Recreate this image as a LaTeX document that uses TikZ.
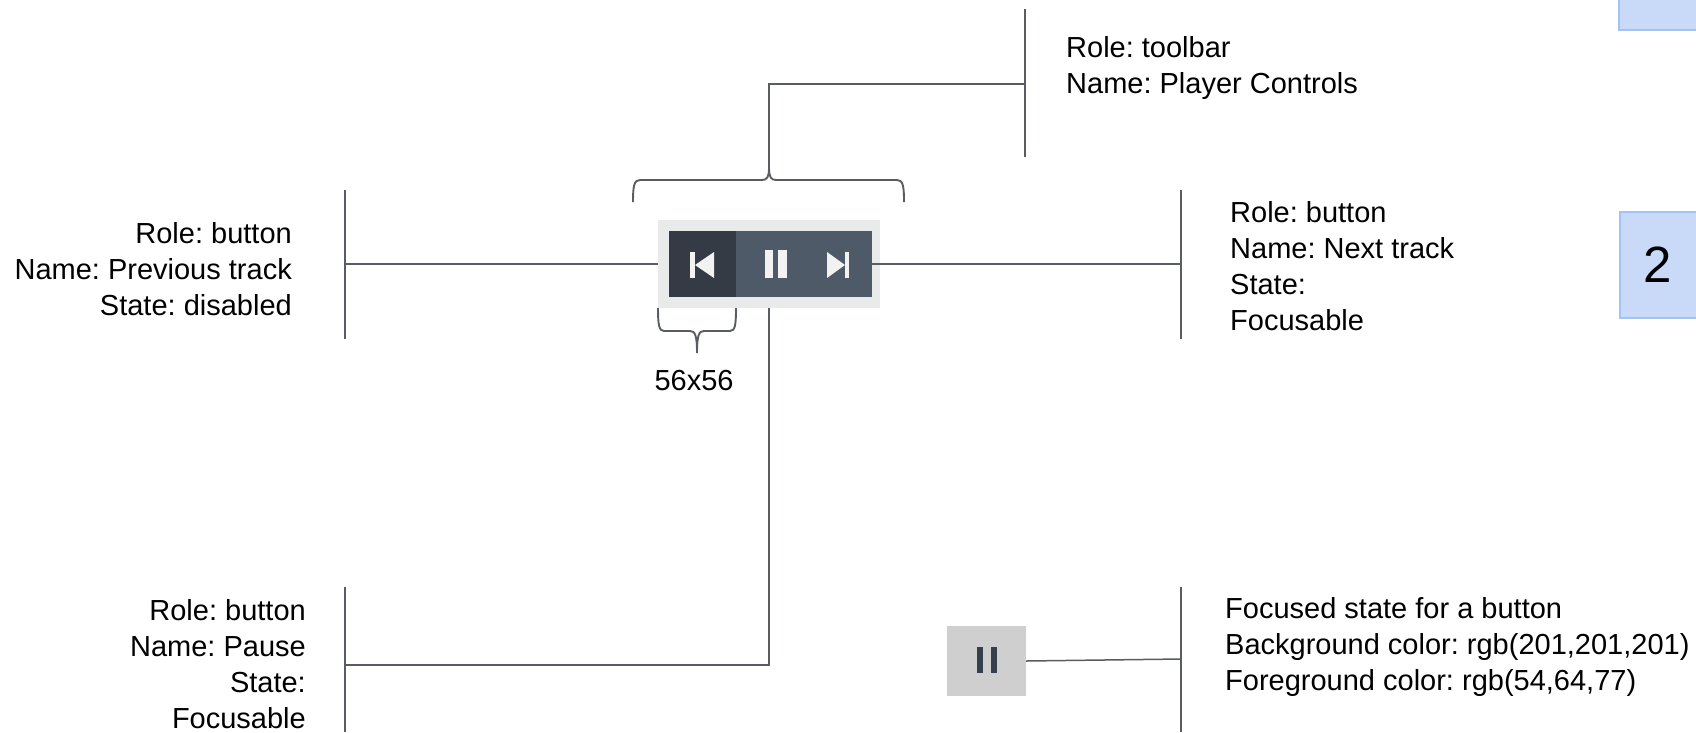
\documentclass[tikz,border=0pt]{standalone}
\usepackage{fontspec}
\setmainfont{Liberation Sans}
\frenchspacing
\definecolor{linegray}{HTML}{595C61}
\definecolor{barbg}{HTML}{E9EAEA}
\definecolor{btndark}{HTML}{343B45}
\definecolor{btnlight}{HTML}{4F5A68}
\definecolor{focusbg}{HTML}{CFCFCF}
\definecolor{focusfg}{HTML}{36404D}
\definecolor{boxfill}{HTML}{C9DAF8}
\definecolor{boxline}{HTML}{A4C2F4}
\tikzset{
    rule/.style={draw=linegray,line width=1.5pt},
    bracket/.style={draw=linegray,line width=1.9pt},
    note/.style={inner sep=0pt,font=\fontsize{29}{36}\selectfont},
    noteleft/.style={note,anchor=east,align=right},
    noteright/.style={note,anchor=west,align=left},
    patch/.style={inner sep=0pt,outer sep=0pt,anchor=north west},
    numbox/.style={draw=boxline,fill=boxfill,line width=1.5pt}
}
\begin{document}
\begin{tikzpicture}[x=1pt,y=-1pt]
    \useasboundingbox (0,0) rectangle (1696,732);

    % Thanh điều khiển
    \node[patch,fill=barbg,minimum width=222pt,minimum height=88pt] (bar) at (658,220) {};
    \node[patch,fill=btnlight,minimum width=136pt,minimum height=66pt] (rest) at (736,231) {};
    \node[patch,fill=btndark,minimum width=67.5pt,minimum height=66pt] (prev) at (668.5,231) {};

    % Biểu tượng trên các nút
    \fill[white!95!black] (690,252) rectangle (695,278);
    \fill[white!95!black] (695,265) -- (714,252) -- (714,278) -- cycle;
    \fill[white!95!black] (765,250) rectangle (773,278);
    \fill[white!95!black] (778,250) rectangle (787,278);
    \fill[white!95!black] (827,252) -- (845,265) -- (827,278) -- cycle;
    \fill[white!95!black] (845,252) rectangle (849,278);

    % Nút ở trạng thái focus
    \node[patch,fill=focusbg,minimum width=79pt,minimum height=70pt] (focus) at (947,626) {};
    \fill[focusfg] (977,647) rectangle (983,673);
    \fill[focusfg] (991,647) rectangle (997,673);

    % Các thanh dọc
    \coordinate (toolTop) at (1025,9);
    \coordinate (toolBot) at (1025,157);
    \coordinate (toolMid) at (1025,84);
    \coordinate (prevTop) at (345,190);
    \coordinate (prevBot) at (345,339);
    \coordinate (prevMid) at (345,264);
    \coordinate (nextTop) at (1181,190);
    \coordinate (nextBot) at (1181,339);
    \coordinate (nextMid) at (1181,264);
    \coordinate (pauseTop) at (345,587);
    \coordinate (pauseBot) at (345,732);
    \coordinate (pauseMid) at (345,665);
    \coordinate (focusTop) at (1181,587);
    \coordinate (focusBot) at (1181,732);
    \coordinate (focusMid) at (1181,659);
    \draw[rule] (toolTop) -- (toolBot);
    \draw[rule] (prevTop) -- (prevBot);
    \draw[rule] (nextTop) -- (nextBot);
    \draw[rule] (pauseTop) -- (pauseBot);
    \draw[rule] (focusTop) -- (focusBot);

    % Ngoặc trên và ngoặc dưới
    \coordinate (braceTip) at (769,168);
    \coordinate (sizeTip) at (697,353);
    \draw[bracket] (633,202) .. controls (633,186) and (634,180) .. (640,180) -- (762,180)
        .. controls (767,180) and (769,177) .. (braceTip)
        .. controls (769,177) and (771,180) .. (776,180) -- (897,180)
        .. controls (903,180) and (904,186) .. (904,202);
    \draw[bracket] (658,308) .. controls (658,325) and (659,331) .. (664,331) -- (690,331)
        .. controls (695,331) and (697,335) .. (sizeTip)
        .. controls (697,335) and (699,331) .. (704,331) -- (730,331)
        .. controls (735,331) and (736,325) .. (736,308);

    % Đường nối
    \draw[rule] (braceTip) |- (toolMid);
    \draw[rule] (bar.west |- prevMid) -- (prevMid);
    \draw[rule] (rest.east |- nextMid) -- (nextMid);
    \draw[rule] (769,308) |- (pauseMid);
    \draw[rule] (focus.east |- 0,661) -- (focusMid);

    % Chú thích
    \node[noteright] (toolNote) at (1066,68) {Role: toolbar\\Name: Player Controls};
    \node[noteleft] (prevNote) at (292,269) {Role: button\\Name: Previous track\\State: disabled};
    \node[noteright] (nextNote) at (1230,266) {Role: button\\Name: Next track\\State:\\Focusable};
    \node[noteleft] (pauseNote) at (306,664.5) {Role: button\\Name: Pause\\State:\\Focusable};
    \node[noteright] (focusNote) at (1225,647) {Focused state for a button\\Background color: rgb(201,201,201)\\Foreground color: rgb(54,64,77)};
    \node[note] (sizeNote) at (694,381) {56x56};

    % Ô đánh số
    \draw[numbox] (1619,-10) rectangle (1706,30);
    \node[numbox,anchor=north west,minimum width=87pt,minimum height=106pt] (numTwo) at (1619,211) {};
    \node[inner sep=0pt,font=\fontsize{51}{51}\selectfont] (twoText) at (1658,265) {2};
\end{tikzpicture}
\end{document}
